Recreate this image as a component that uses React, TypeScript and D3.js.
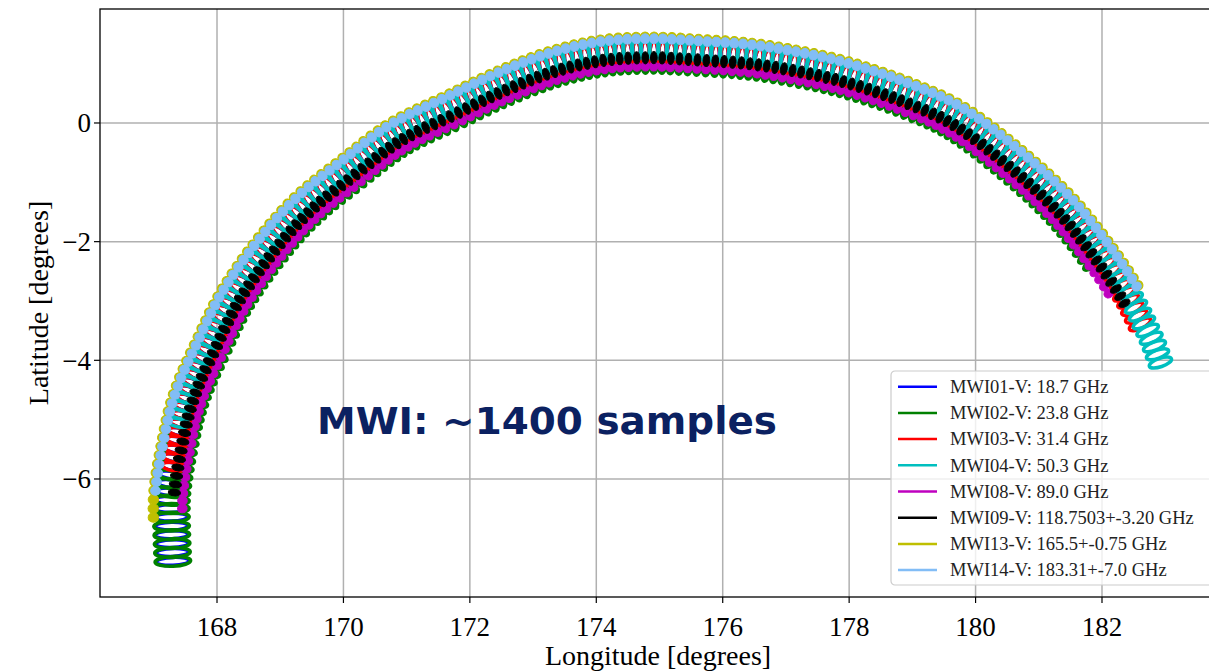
import React, { useRef, useEffect } from 'react';
import * as d3 from 'd3';

const xTicks = [168, 170, 172, 174, 176, 178, 180, 182];
const yTicks = [0, -2, -4, -6];

// centre line of the outer (183 GHz) footprints
const trackLon = [167.04, 167.02, 167.02, 167.07, 167.15, 167.26, 167.42, 167.67, 168.10, 168.79, 169.31,
  169.95, 170.74, 171.64, 172.43, 173.27, 174.06, 174.85, 175.64, 176.43, 177.11, 177.97, 179.01, 179.80,
  180.78, 181.54, 182.13, 182.55, 182.79, 182.97, 183.08];
const trackLat = [-7.40, -6.80, -6.30, -5.85, -5.39, -4.84, -4.33, -3.74, -2.82, -1.80, -1.21,
  -0.66, -0.03, 0.44, 0.84, 1.18, 1.37, 1.42, 1.38, 1.32, 1.21, 1.01, 0.64, 0.25,
  -0.54, -1.30, -2.09, -2.76, -3.24, -3.66, -3.98];
const scanPositions = 164;

const channelLabels = [
  'MWI01-V: 18.7 GHz',
  'MWI02-V: 23.8 GHz',
  'MWI03-V: 31.4 GHz',
  'MWI04-V: 50.3 GHz',
  'MWI08-V: 89.0 GHz',
  'MWI09-V: 118.7503+-3.20 GHz',
  'MWI13-V: 165.5+-0.75 GHz',
  'MWI14-V: 183.31+-7.0 GHz',
];
const channelColors = ['#0000ff', '#008000', '#ff0000', '#00bfbf', '#bf00bf', '#000000', '#bfbf00', '#82bdf6'];
// inward offset of each channel from the outer track (degrees)
const channelOffset = [0.27, 0.27, 0.24, 0.17, 0.45, 0.31, -0.025, 0];
// first / last scan position of each channel
const firstSample = [0, 0, 11, 16, 6, 8, 5, 8];
const lastSample = [147, 149, 158, 163, 153, 155, 154, 154];
// footprint semi-axes (degrees), across and along the scan
const footAcross = [0.27, 0.29, 0.19, 0.19, 0.078, 0.1, 0.085, 0.08];
const footAlong = [0.065, 0.08, 0.068, 0.068, 0.07, 0.055, 0.078, 0.072];

const App = () => {
  const svgRef = useRef(null);
  const width = 1209;
  const height = 672;
  const plot = { left: 100, right: 1224, top: 9, bottom: 597 };

  useEffect(() => {
    const svg = d3.select(svgRef.current);
    svg.selectAll('*').remove();

    const xScale = d3.scaleLinear().domain([166.149, 183.93]).range([plot.left, plot.right]);
    const yScale = d3.scaleLinear().domain([-7.989, 1.921]).range([plot.bottom, plot.top]);
    const k = ((xScale(1) - xScale(0)) + (yScale(0) - yScale(1))) / 2;
    const serif = '"Liberation Serif", "DejaVu Serif", serif';

    svg.append('rect').attr('width', width).attr('height', height).attr('fill', '#fff');

    // grid
    svg.append('g').selectAll('line').data(xTicks).join('line')
      .attr('x1', d => xScale(d)).attr('x2', d => xScale(d))
      .attr('y1', plot.top).attr('y2', plot.bottom)
      .attr('stroke', '#b0b0b0').attr('stroke-width', 1.5);
    svg.append('g').selectAll('line').data(yTicks).join('line')
      .attr('x1', plot.left).attr('x2', plot.right)
      .attr('y1', d => yScale(d)).attr('y2', d => yScale(d))
      .attr('stroke', '#b0b0b0').attr('stroke-width', 1.5);

    svg.append('clipPath').attr('id', 'plotClip')
      .append('rect')
      .attr('x', plot.left).attr('y', plot.top)
      .attr('width', plot.right - plot.left).attr('height', plot.bottom - plot.top);

    const dataG = svg.append('g').attr('clip-path', 'url(#plotClip)');

    // scan track, used to place footprints
    const line = d3.line()
      .x(d => xScale(d[0]))
      .y(d => yScale(d[1]))
      .curve(d3.curveCatmullRom.alpha(0.5));
    const track = trackLon.map((lon, i) => [lon, trackLat[i]]);
    const trackPath = dataG.append('path')
      .attr('d', line(track))
      .attr('fill', 'none').attr('stroke', 'none');
    const node = trackPath.node();
    const total = node.getTotalLength();
    const step = total / (scanPositions - 1);

    channelLabels.forEach((label, c) => {
      const samples = [];
      for (let i = firstSample[c]; i <= lastSample[c]; i++) {
        const s = Math.min(i * step, total);
        const p = node.getPointAtLength(s);
        const a = node.getPointAtLength(Math.max(s - 1, 0));
        const b = node.getPointAtLength(Math.min(s + 1, total));
        const ang = Math.atan2(b.y - a.y, b.x - a.x);
        const off = channelOffset[c] * k;
        samples.push({
          x: p.x - Math.sin(ang) * off,
          y: p.y + Math.cos(ang) * off,
          ang: ang * 180 / Math.PI + 90,
        });
      }
      const filled = footAcross[c] < 0.15;
      dataG.append('g').selectAll('ellipse').data(samples).join('ellipse')
        .attr('transform', d => `translate(${d.x},${d.y}) rotate(${d.ang})`)
        .attr('rx', footAcross[c] * k)
        .attr('ry', footAlong[c] * k)
        .attr('fill', filled ? channelColors[c] : 'none')
        .attr('stroke', channelColors[c])
        .attr('stroke-width', filled ? 1 : 3.6);
    });

    // frame
    svg.append('rect')
      .attr('x', plot.left).attr('y', plot.top)
      .attr('width', plot.right - plot.left).attr('height', plot.bottom - plot.top)
      .attr('fill', 'none').attr('stroke', '#000').attr('stroke-width', 1.3);

    // ticks and tick labels
    const fmt = d3.format('d');
    const xAxis = svg.append('g');
    xAxis.selectAll('line').data(xTicks).join('line')
      .attr('x1', d => xScale(d)).attr('x2', d => xScale(d))
      .attr('y1', plot.bottom).attr('y2', plot.bottom + 6)
      .attr('stroke', '#000').attr('stroke-width', 1.2);
    xAxis.selectAll('text').data(xTicks).join('text')
      .attr('x', d => xScale(d)).attr('y', plot.bottom + 39)
      .attr('text-anchor', 'middle')
      .attr('font-family', serif).attr('font-size', 27)
      .text(d => fmt(d));

    const yAxis = svg.append('g');
    yAxis.selectAll('line').data(yTicks).join('line')
      .attr('x1', plot.left - 6).attr('x2', plot.left)
      .attr('y1', d => yScale(d)).attr('y2', d => yScale(d))
      .attr('stroke', '#000').attr('stroke-width', 1.2);
    yAxis.selectAll('text').data(yTicks).join('text')
      .attr('x', plot.left - 9).attr('y', d => yScale(d) + 9.5)
      .attr('text-anchor', 'end')
      .attr('font-family', serif).attr('font-size', 27)
      .text(d => fmt(d));

    svg.append('text')
      .attr('x', (plot.left + plot.right) / 2 - 4).attr('y', 665)
      .attr('text-anchor', 'middle')
      .attr('font-family', serif).attr('font-size', 28)
      .text('Longitude [degrees]');

    svg.append('text')
      .attr('transform', `translate(48,${(plot.top + plot.bottom) / 2}) rotate(-90)`)
      .attr('text-anchor', 'middle')
      .attr('font-family', serif).attr('font-size', 28)
      .text('Latitude [degrees]');

    // legend
    const legend = svg.append('g').attr('transform', 'translate(891,371)');
    legend.append('rect')
      .attr('width', 340).attr('height', 214).attr('rx', 4)
      .attr('fill', '#fff').attr('fill-opacity', 0.8)
      .attr('stroke', '#cccccc').attr('stroke-width', 1.2);
    const rows = legend.selectAll('g.row').data(channelLabels).join('g')
      .attr('class', 'row')
      .attr('transform', (d, i) => `translate(0,${15.7 + i * 26.2})`);
    rows.append('line')
      .attr('x1', 7).attr('x2', 46)
      .attr('stroke', (d, i) => channelColors[i]).attr('stroke-width', 2.5);
    rows.append('text')
      .attr('x', 59).attr('y', 6.3)
      .attr('font-family', serif).attr('font-size', 18.5)
      .attr('fill', '#222')
      .text(d => d);

    // annotation
    svg.append('text')
      .attr('x', 317).attr('y', 434)
      .attr('font-family', '"DejaVu Sans", Verdana, sans-serif')
      .attr('font-weight', 'bold').attr('font-size', 37)
      .attr('fill', '#0b2161')
      .attr('textLength', 460).attr('lengthAdjust', 'spacingAndGlyphs')
      .text('MWI: ~1400 samples');
  }, []);

  return (
    <svg
      ref={svgRef}
      width={width}
      height={height}
      style={{ position: 'absolute', left: 0, top: 0, display: 'block' }}
    />
  );
};

export default App;
